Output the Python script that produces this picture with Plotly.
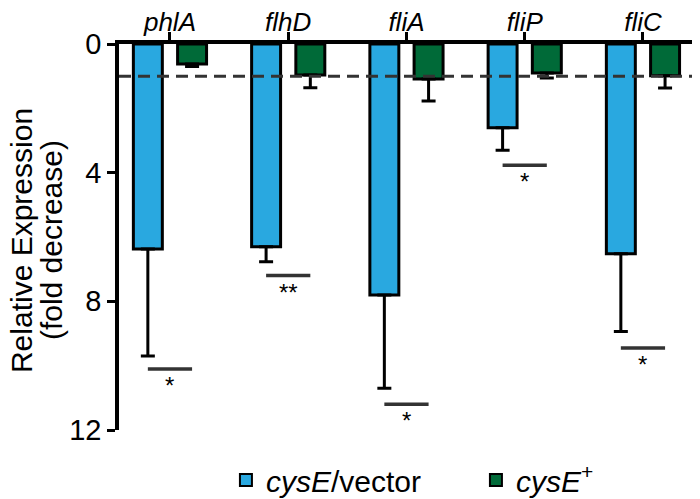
import plotly.graph_objects as go

genes = ["phlA", "flhD", "fliA", "fliP", "fliC"]
vector_vals = [6.37, 6.3, 7.8, 2.6, 6.52]
vector_err = [3.33, 0.47, 2.9, 0.7, 2.42]
comp_vals = [0.62, 0.96, 1.09, 0.9, 0.99]
comp_err = [0.08, 0.4, 0.68, 0.16, 0.38]
sig_y = [10.1, 7.2, 11.2, 3.77, 9.45]
sig_labels = ["*", "**", "*", "*", "*"]
y_ticks = [0, 4, 8, 12]
baseline = 1.0
y_title_lines = ["Relative Expression", "(fold decrease)"]

BLUE = "#29A8E0"
GREEN = "#006A38"
FONT = "Liberation Sans, Arial"

x_idx = list(range(len(genes)))

fig = go.Figure()
fig.add_trace(go.Bar(
    x=x_idx, y=vector_vals, name="<i>cysE</i>/vector",
    marker=dict(color=BLUE, line=dict(color="black", width=3)),
    error_y=dict(type="data", array=vector_err, arrayminus=[0]*5, symmetric=False,
                 color="black", thickness=3, width=7),
))
fig.add_trace(go.Bar(
    x=x_idx, y=comp_vals, name="<i>cysE</i><sup>+</sup>",
    marker=dict(color=GREEN, line=dict(color="black", width=3)),
    error_y=dict(type="data", array=comp_err, arrayminus=[0]*5, symmetric=False,
                 color="black", thickness=3, width=7),
))

off = 0.187
for i, (yv, lab) in enumerate(zip(sig_y, sig_labels)):
    fig.add_shape(type="line", xref="x", yref="y", x0=i - off, x1=i + off, y0=yv, y1=yv,
                  line=dict(color="#333333", width=3.5))
    fig.add_annotation(x=i, y=yv, xref="x", yref="y", text=lab, showarrow=False,
                       yanchor="top", yshift=-1,
                       font=dict(size=24, color="black", family=FONT))

fig.add_shape(type="line", xref="paper", yref="y", x0=0, x1=1, y0=baseline, y1=baseline,
              line=dict(color="#333333", width=3, dash="12px,7px"), layer="above")

# y-axis title as two tightly spaced rotated lines
for line_txt, xp in zip(y_title_lines, [-0.1696, -0.1176]):
    fig.add_annotation(x=xp, y=0.492, xref="paper", yref="paper", text=line_txt,
                       textangle=-90, showarrow=False, xanchor="center", yanchor="middle",
                       font=dict(size=30, color="black", family=FONT))

# page body has an 8px default margin; size the figure so it fits the 700x499 window
fig.update_layout(
    width=692, height=491,
    margin=dict(l=111, r=3, t=36, b=69, autoexpand=False),
    plot_bgcolor="white", paper_bgcolor="white",
    barmode="group", bargap=0.252, bargroupgap=0.345,
    font=dict(family=FONT, color="black"),
    showlegend=True,
    legend=dict(orientation="h", x=0.185, xanchor="left", y=-0.1295, yanchor="middle",
                font=dict(size=30), itemsizing="constant", tracegroupgap=0,
                entrywidth=205, entrywidthmode="pixels"),
    xaxis=dict(
        side="top", range=[-0.431, 4.457], tickmode="array", tickvals=x_idx,
        ticktext=["<i>%s</i>" % g for g in genes],
        showline=True, linecolor="black", linewidth=3.5,
        ticks="outside", ticklen=8, tickwidth=3, tickcolor="black",
        tickfont=dict(size=26), ticklabelstandoff=-9,
        showgrid=False, zeroline=False, automargin=False,
    ),
    yaxis=dict(
        range=[12, 0], tickmode="array", tickvals=y_ticks,
        showline=True, linecolor="black", linewidth=3.5,
        ticks="outside", ticklen=8, tickwidth=3, tickcolor="black",
        tickfont=dict(size=29), showgrid=False, zeroline=False, automargin=False,
    ),
)

fig.write_html("out.html")
